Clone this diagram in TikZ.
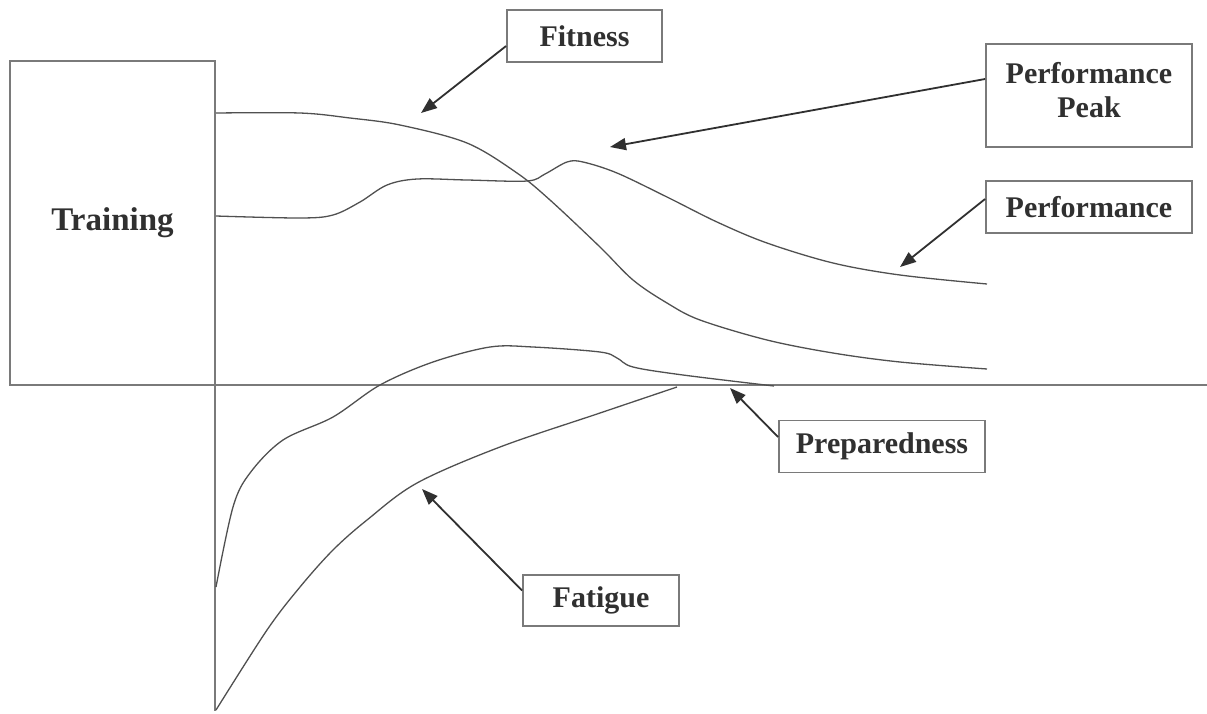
\documentclass[tikz,border=0pt]{standalone}
\usepackage{fontspec}
\setmainfont{Liberation Serif}
\usetikzlibrary{arrows.meta,calc}
\definecolor{boxgray}{HTML}{7A7A7A}
\definecolor{curvegray}{HTML}{505050}
\definecolor{txt}{HTML}{303030}
\begin{document}
\begin{tikzpicture}[x=1pt,y=-1pt,
  lbox/.style={draw=boxgray,line width=1.8pt,fill=white,inner sep=0pt,
    text=txt,font=\bfseries\fontsize{30}{34}\selectfont},
  curve/.style={draw=curvegray,line width=1.3pt},
  axis/.style={draw=boxgray,line width=1.8pt},
  ptr/.style={draw=txt,line width=1.8pt,-{Triangle[length=16pt,width=12pt]}}]
\useasboundingbox (0,0) rectangle (1207,713);
% axes and training box
\node[lbox,minimum width=205pt,minimum height=324pt,
  font=\bfseries\fontsize{33}{36}\selectfont] (train) at (112.5,223) {Training};
\coordinate (hl) at (10,385);
\coordinate (hr) at (1207,385);
\coordinate (vt) at (215,385);
\coordinate (vb) at (215,711);
\draw[axis] (hl) -- (hr);
\draw[axis] (vt) -- (vb);
% curves
\draw[curve] plot[smooth,tension=0.55] coordinates {(216,113) (300,113) (350,118) (400,125) (467,143) (517,173) (550,200) (600,247) (633,280) (667,303) (700,320) (767,340) (833,353) (900,362) (987,369)};
\draw[curve] plot[smooth,tension=0.55] coordinates {(216,216) (300,218) (333,215) (360,202) (387,185) (417,179) (467,180) (527,181) (545,174) (567,162) (583,162) (617,173) (667,197) (717,222) (767,243) (833,263) (900,275) (987,284)};
\draw[curve] plot[smooth,tension=0.55] coordinates {(216,587) (233,507) (250,473) (283,440) (333,417) (380,385) (433,362) (490,347) (533,347) (600,352) (617,358) (633,367) (683,375) (774,386)};
\draw[curve] plot[smooth,tension=0.55] coordinates {(216,710) (267,630) (300,587) (333,550) (367,520) (417,483) (500,447) (600,413) (677,387)};
% label boxes
\node[lbox,minimum width=155pt,minimum height=52pt] (fit) at (584.5,36) {Fitness};
\node[lbox,minimum width=206pt,minimum height=103pt] (peak) at (1089,95.5) {};
\node[text=txt,font=\bfseries\fontsize{30}{34}\selectfont,align=center,inner sep=0pt] (peaktxt) at (1089,90) {Performance\\Peak};
\node[lbox,minimum width=206pt,minimum height=52pt] (perf) at (1089,207) {Performance};
\node[lbox,minimum width=206pt,minimum height=52pt] (prep) at (882,446.5) {Preparedness};
\node[lbox,minimum width=156pt,minimum height=51pt] (fat) at (601,600.5) {Fatigue};
% arrow tips
\coordinate (tfit) at (421,113);
\coordinate (tpeak) at (610,147);
\coordinate (tperf) at (900,267);
\coordinate (tprep) at (730,388);
\coordinate (tfat) at (422,489);
\draw[ptr] ($(fit.west)+(0,10)$) -- (tfit);
\draw[ptr] ($(peak.west)+(0,-16.5)$) -- (tpeak);
\draw[ptr] ($(perf.west)+(0,-8)$) -- (tperf);
\draw[ptr] ($(prep.west)+(0,-9.5)$) -- (tprep);
\draw[ptr] ($(fat.west)+(0,-10)$) -- (tfat);
\end{tikzpicture}
\end{document}
